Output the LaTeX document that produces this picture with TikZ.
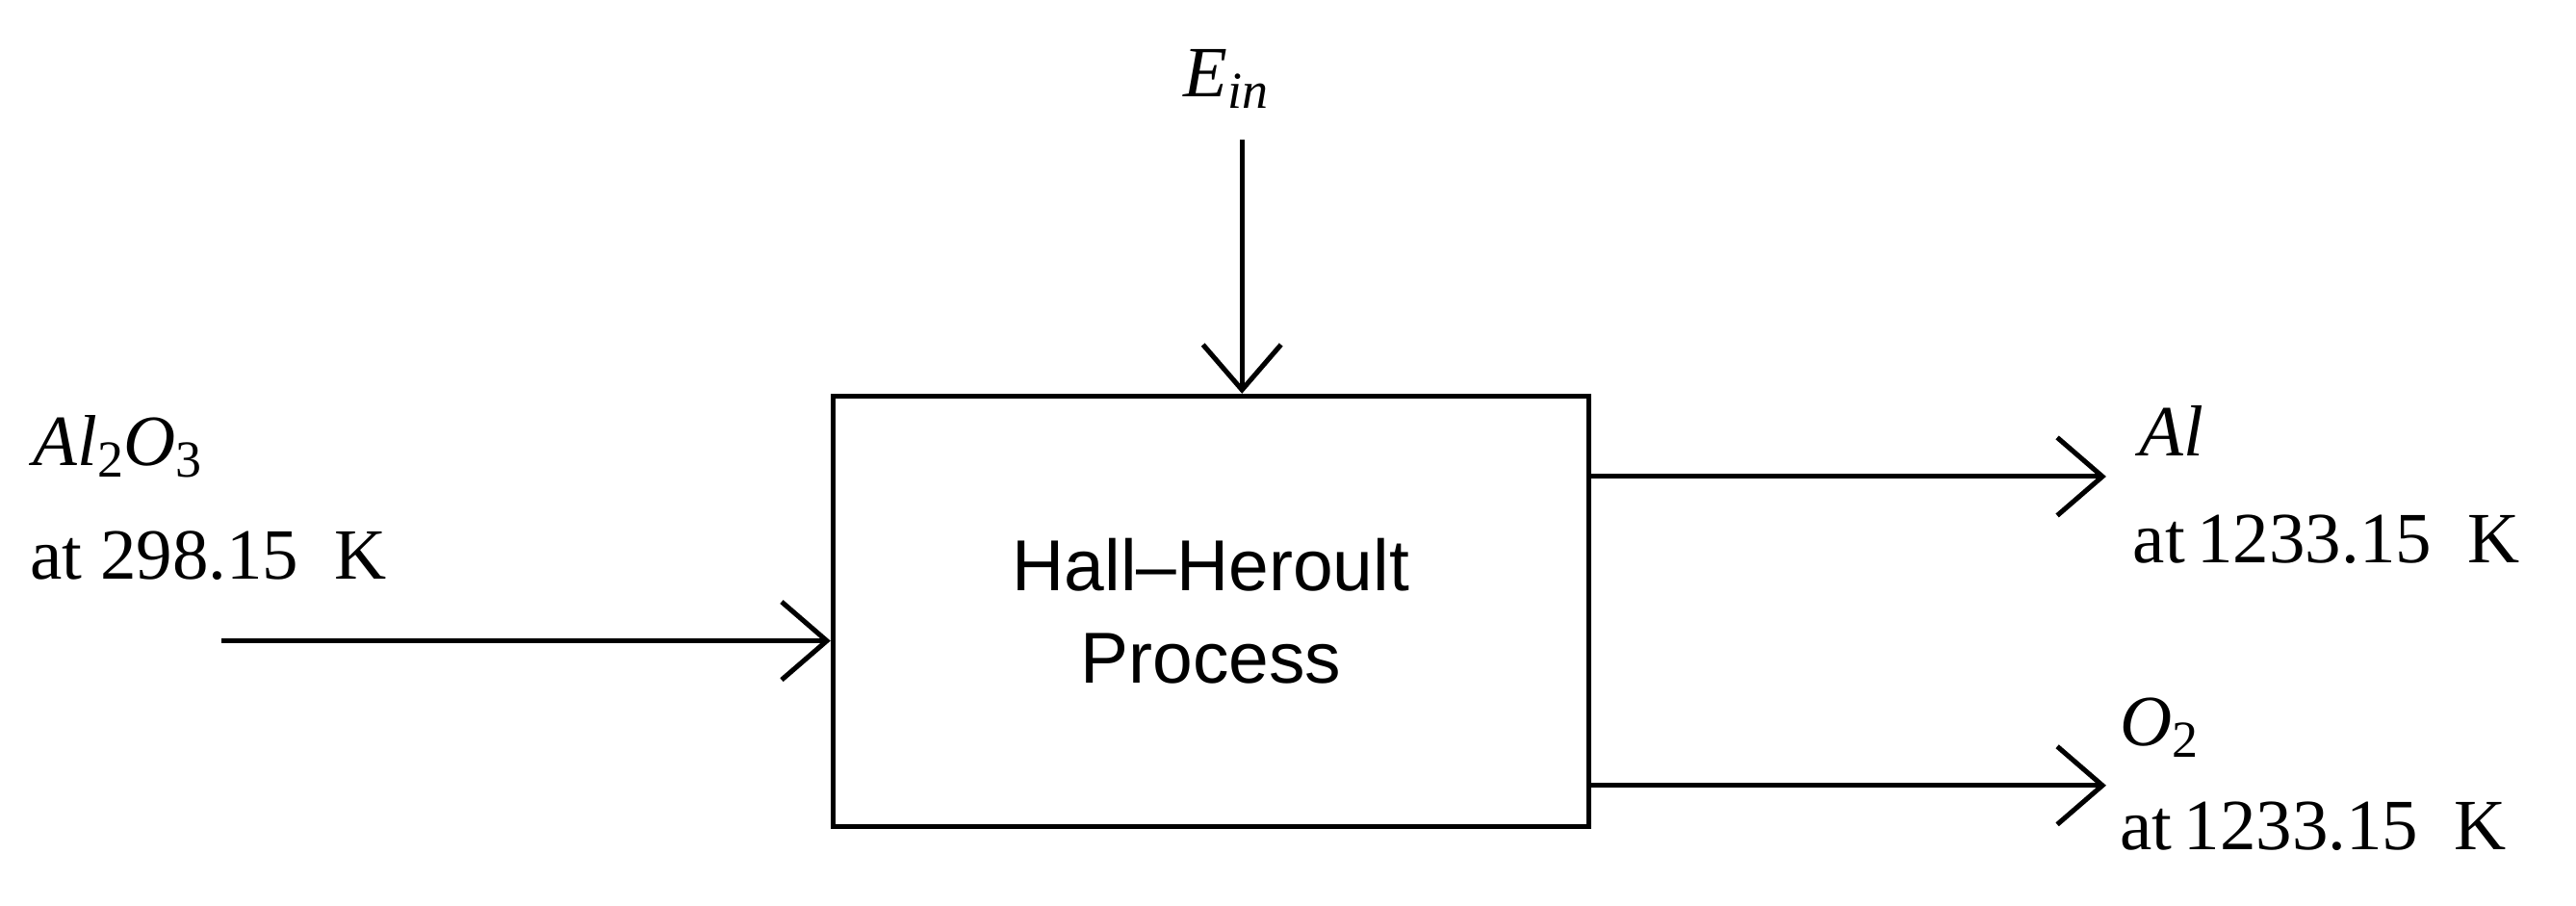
\documentclass[tikz,border=0pt]{standalone}
\usepackage{fontspec}
\setmainfont{Liberation Serif}
\newfontfamily\sansf{Liberation Sans}
\usetikzlibrary{arrows.meta}
\begin{document}
\begin{tikzpicture}[x=0.02cm,y=-0.02cm,
  ln/.style={line width=1.7pt},
  arr/.style={ln,-{Straight Barb[length=0.55cm,width=0.95cm,line width=1.7pt]}},
  lab/.style={anchor=west,inner sep=0pt,font=\fontsize{25}{30}\selectfont},
  box/.style={ln,draw,minimum width=9.2cm,minimum height=5.24cm,inner sep=0pt,align=center,font=\sansf\fontsize{25}{32}\selectfont}]
\useasboundingbox (0,0) rectangle (1568,551);
\node[box] (p) at (737,372) {Hall–Heroult\\Process};
\coordinate (ein) at (756,85);
\coordinate (lin) at (135,390);
\coordinate (o1) at (1282,290);
\coordinate (o2) at (1282,478);
\draw[arr] (ein) -- (p.north -| ein);
\draw[arr] (lin) -- (p.west |- lin);
\draw[arr] (p.east |- o1) -- (o1);
\draw[arr] (p.east |- o2) -- (o2);
\node[lab] (e) at (720,48) {\textit{E}\raisebox{-0.35ex}{\textit{\fontsize{18}{20}\selectfont in}}};
\node[lab] (a) at (20,272) {\textit{Al}\raisebox{-0.35ex}{\fontsize{18}{20}\selectfont 2}\textit{O}\raisebox{-0.35ex}{\fontsize{18}{20}\selectfont 3}};
\node[lab] (at1) at (18,338) {at 298.15~~K};
\node[lab] (b) at (1302,262) {\textit{Al}};
\node[lab] (at2) at (1298,328) {at\,1233.15~~K};
\node[lab] (c) at (1290,443) {\textit{O}\raisebox{-0.35ex}{\fontsize{18}{20}\selectfont 2}};
\node[lab] (at3) at (1290,503) {at\,1233.15~~K};
\end{tikzpicture}
\end{document}
